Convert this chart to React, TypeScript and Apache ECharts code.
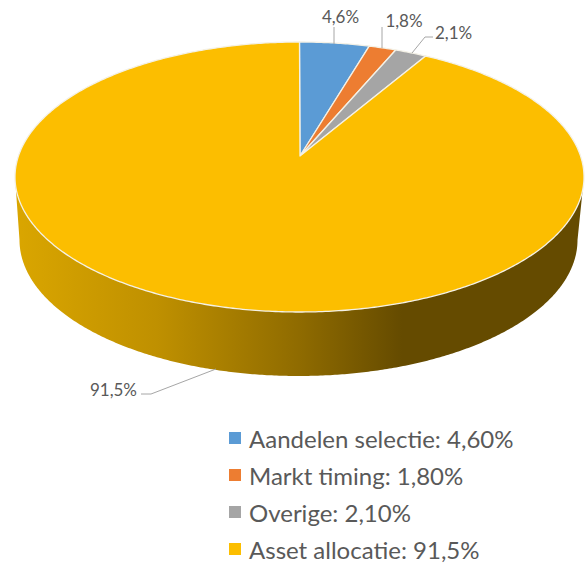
import React, { useEffect, useRef } from "react";
import * as echarts from "echarts";

const categories = ["Aandelen selectie", "Markt timing", "Overige", "Asset allocatie"];
const values = [4.6, 1.8, 2.1, 91.5];
const sliceLabels = ["4,6%", "1,8%", "2,1%", "91,5%"];
const legendLabels = ["4,60%", "1,80%", "2,10%", "91,5%"];
const colors = ["#5B9BD5", "#ED7D31", "#A5A5A5", "#FCBE00"];

const FONT = "Lato, sans-serif";
const TOTAL = values.reduce((a, b) => a + b, 0);
const TOP = { cx: 299.5, cy: 177, rx: 284.5, ry: 135 };
const BOTTOM = { cx: 298.5, cy: 240, rx: 279, ry: 136 };
const K = 21 / 135; // how far the pie's apex sits above the ellipse centre (perspective)

function rim(angle: number): number[] {
  const u = Math.sin(angle);
  const v = Math.cos(angle);
  const d = 1 + K * v;
  const X = (u * Math.sqrt(1 - K * K)) / d;
  const Y = (v + K) / d;
  return [TOP.cx + TOP.rx * X, TOP.cy - TOP.ry * Y];
}

function slicePoints(from: number, to: number): number[][] {
  const a0 = (from / TOTAL) * Math.PI * 2;
  const a1 = (to / TOTAL) * Math.PI * 2;
  const n = Math.max(2, Math.ceil((a1 - a0) / 0.01));
  const pts: number[][] = [[TOP.cx + 0.5, TOP.cy - TOP.ry * K]];
  for (let i = 0; i <= n; i++) pts.push(rim(a0 + ((a1 - a0) * i) / n));
  return pts;
}

function wallPoints(): number[][] {
  const pts: number[][] = [[TOP.cx + TOP.rx, TOP.cy]];
  for (let i = 0; i <= 360; i++) {
    const t = (i / 360) * Math.PI;
    pts.push([BOTTOM.cx + BOTTOM.rx * Math.cos(t), BOTTOM.cy + BOTTOM.ry * Math.sin(t)]);
  }
  pts.push([TOP.cx - TOP.rx, TOP.cy]);
  return pts;
}

const labelLayouts = [
  { x: 340.5, y: 16, align: "center", line: [[334, 44], [334, 27]] },
  { x: 404, y: 20, align: "center", line: [[382, 48], [382, 27]] },
  { x: 435, y: 32, align: "left", line: [[412, 53], [425, 37], [433, 37]] },
  { x: 137, y: 389, align: "right", line: [[216, 369], [151, 394], [141, 394]] },
];

const wallGradient = {
  type: "linear",
  x: 0,
  y: 0,
  x2: 1,
  y2: 0,
  colorStops: [
    { offset: 0, color: "#DAA600" },
    { offset: 0.25, color: "#BF9000" },
    { offset: 0.5, color: "#8F6B00" },
    { offset: 0.68, color: "#654B00" },
    { offset: 1, color: "#654B00" },
  ],
};

export default function App() {
  const ref = useRef<HTMLDivElement>(null);
  useEffect(() => {
    document.body.style.margin = "0";
    const chart = echarts.init(ref.current!, null, { renderer: "svg" });
    let cum = 0;
    const series = categories.map((name, idx) => {
      const start = cum;
      cum += values[idx];
      return {
        type: "custom",
        name: `${name}: ${legendLabels[idx]}`,
        coordinateSystem: "none",
        silent: true,
        itemStyle: { color: colors[idx] },
        data: [[values[idx]]],
        renderItem: (_p: any, api: any) => {
          const v = api.value(0);
          const children: any[] = [];
          if (idx === 3) {
            children.push({
              type: "polygon",
              shape: { points: wallPoints() },
              style: { fill: wallGradient },
            });
          }
          children.push({
            type: "polygon",
            shape: { points: slicePoints(start, start + v) },
            style: { fill: colors[idx], stroke: "#F4F1E6", lineWidth: 1.3, lineJoin: "round" },
          });
          const l = labelLayouts[idx];
          children.push({
            type: "polyline",
            shape: { points: l.line },
            style: { fill: "none", stroke: "#A6A6A6", lineWidth: 1 },
          });
          children.push({
            type: "text",
            x: l.x,
            y: l.y,
            style: {
              text: sliceLabels[idx],
              fill: "#595959",
              font: `17px ${FONT}`,
              align: l.align,
              verticalAlign: "middle",
            },
          });
          return { type: "group", children };
        },
      };
    });
    chart.setOption({
      animation: false,
      backgroundColor: "#fff",
      legend: {
        orient: "vertical",
        left: 229,
        top: 423,
        height: 400,
        padding: 0,
        icon: "rect",
        itemWidth: 12,
        itemHeight: 12,
        itemGap: 7,
        selectedMode: false,
        textStyle: { color: "#595959", fontSize: 24, fontFamily: FONT, padding: [0, 0, 0, 3], lineHeight: 30 },
      },
      series,
    });
    return () => chart.dispose();
  }, []);
  return <div ref={ref} style={{ position: "fixed", left: 0, top: 0, width: 585, height: 563 }} />;
}
